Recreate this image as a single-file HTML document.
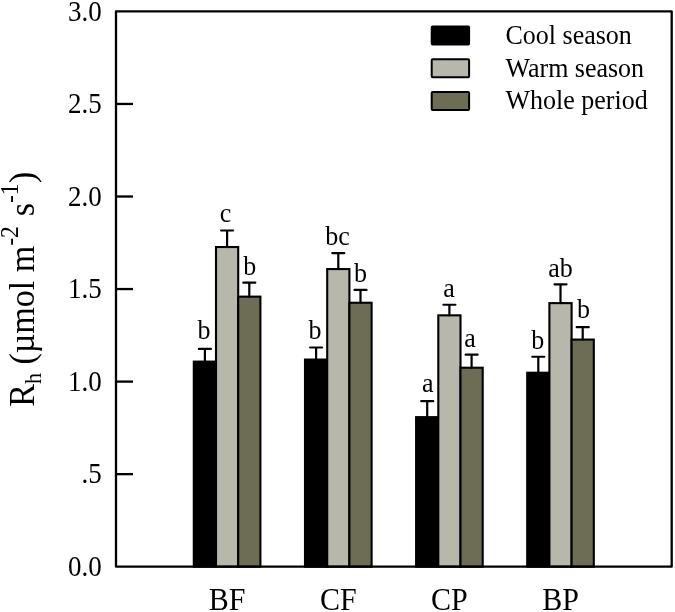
<!DOCTYPE html><html><head><meta charset="utf-8"><style>html,body{margin:0;padding:0;background:#fff;width:675px;height:612px;overflow:hidden}svg{display:block;will-change:transform}text{font-family:"Liberation Serif",serif;fill:#000}</style></head><body>
<svg width="675" height="612" viewBox="0 0 675 612">
<rect x="193.80" y="361.61" width="22.20" height="205.09" fill="#000000" stroke="#000" stroke-width="2.1"/>
<path d="M204.90 361.61V348.97M198.90 348.97H210.90" stroke="#000" stroke-width="2.2" fill="none" stroke-linecap="round"/>
<text transform="translate(204.05,338.50) scale(1,1.04)" font-size="26" text-anchor="middle">b</text>
<rect x="216.00" y="247.03" width="22.20" height="319.67" fill="#b7b7ac" stroke="#000" stroke-width="2.1"/>
<path d="M227.10 247.03V230.50M221.10 230.50H233.10" stroke="#000" stroke-width="2.2" fill="none" stroke-linecap="round"/>
<text transform="translate(225.60,221.70) scale(1,1.04)" font-size="26" text-anchor="middle">c</text>
<rect x="238.20" y="296.64" width="22.20" height="270.06" fill="#6d6d56" stroke="#000" stroke-width="2.1"/>
<path d="M249.30 296.64V282.70M243.30 282.70H255.30" stroke="#000" stroke-width="2.2" fill="none" stroke-linecap="round"/>
<text transform="translate(249.70,275.10) scale(1,1.04)" font-size="26" text-anchor="middle">b</text>
<rect x="305.00" y="359.57" width="22.20" height="207.13" fill="#000000" stroke="#000" stroke-width="2.1"/>
<path d="M316.10 359.57V347.49M310.10 347.49H322.10" stroke="#000" stroke-width="2.2" fill="none" stroke-linecap="round"/>
<text transform="translate(314.90,338.50) scale(1,1.04)" font-size="26" text-anchor="middle">b</text>
<rect x="327.20" y="269.06" width="22.20" height="297.64" fill="#b7b7ac" stroke="#000" stroke-width="2.1"/>
<path d="M338.30 269.06V253.09M332.30 253.09H344.30" stroke="#000" stroke-width="2.2" fill="none" stroke-linecap="round"/>
<text transform="translate(337.55,244.60) scale(1,1.04)" font-size="26" text-anchor="middle">bc</text>
<rect x="349.40" y="302.75" width="22.20" height="263.95" fill="#6d6d56" stroke="#000" stroke-width="2.1"/>
<path d="M360.50 302.75V289.92M354.50 289.92H366.50" stroke="#000" stroke-width="2.2" fill="none" stroke-linecap="round"/>
<text transform="translate(360.60,281.70) scale(1,1.04)" font-size="26" text-anchor="middle">b</text>
<rect x="416.10" y="417.14" width="22.20" height="149.56" fill="#000000" stroke="#000" stroke-width="2.1"/>
<path d="M427.20 417.14V401.17M421.20 401.17H433.20" stroke="#000" stroke-width="2.2" fill="none" stroke-linecap="round"/>
<text transform="translate(427.70,392.30) scale(1,1.04)" font-size="26" text-anchor="middle">a</text>
<rect x="438.30" y="315.33" width="22.20" height="251.37" fill="#b7b7ac" stroke="#000" stroke-width="2.1"/>
<path d="M449.40 315.33V304.73M443.40 304.73H455.40" stroke="#000" stroke-width="2.2" fill="none" stroke-linecap="round"/>
<text transform="translate(449.00,296.60) scale(1,1.04)" font-size="26" text-anchor="middle">a</text>
<rect x="460.50" y="367.72" width="22.20" height="198.98" fill="#6d6d56" stroke="#000" stroke-width="2.1"/>
<path d="M471.60 367.72V354.71M465.60 354.71H477.60" stroke="#000" stroke-width="2.2" fill="none" stroke-linecap="round"/>
<text transform="translate(470.10,347.00) scale(1,1.04)" font-size="26" text-anchor="middle">a</text>
<rect x="527.20" y="372.72" width="22.20" height="193.98" fill="#000000" stroke="#000" stroke-width="2.1"/>
<path d="M538.30 372.72V356.74M532.30 356.74H544.30" stroke="#000" stroke-width="2.2" fill="none" stroke-linecap="round"/>
<text transform="translate(537.70,348.80) scale(1,1.04)" font-size="26" text-anchor="middle">b</text>
<rect x="549.40" y="303.12" width="22.20" height="263.58" fill="#b7b7ac" stroke="#000" stroke-width="2.1"/>
<path d="M560.50 303.12V284.37M554.50 284.37H566.50" stroke="#000" stroke-width="2.2" fill="none" stroke-linecap="round"/>
<text transform="translate(560.60,277.00) scale(1,1.04)" font-size="26" text-anchor="middle">ab</text>
<rect x="571.60" y="339.58" width="22.20" height="227.12" fill="#6d6d56" stroke="#000" stroke-width="2.1"/>
<path d="M582.70 339.58V327.13M576.70 327.13H588.70" stroke="#000" stroke-width="2.2" fill="none" stroke-linecap="round"/>
<text transform="translate(583.50,317.50) scale(1,1.04)" font-size="26" text-anchor="middle">b</text>
<rect x="116" y="11.4" width="555.70" height="555.30" fill="none" stroke="#000" stroke-width="2.3" stroke-linejoin="round"/>
<text transform="translate(101.80,575.90) scale(1,1.065)" font-size="27" text-anchor="end">0.0</text>
<path d="M116 474.15H133" stroke="#000" stroke-width="2.3"/>
<text transform="translate(101.80,483.35) scale(1,1.065)" font-size="27" text-anchor="end">.5</text>
<path d="M116 381.60H133" stroke="#000" stroke-width="2.3"/>
<text transform="translate(101.80,390.80) scale(1,1.065)" font-size="27" text-anchor="end">1.0</text>
<path d="M116 289.05H133" stroke="#000" stroke-width="2.3"/>
<text transform="translate(101.80,298.25) scale(1,1.065)" font-size="27" text-anchor="end">1.5</text>
<path d="M116 196.50H133" stroke="#000" stroke-width="2.3"/>
<text transform="translate(101.80,205.70) scale(1,1.065)" font-size="27" text-anchor="end">2.0</text>
<path d="M116 103.95H133" stroke="#000" stroke-width="2.3"/>
<text transform="translate(101.80,113.15) scale(1,1.065)" font-size="27" text-anchor="end">2.5</text>
<text transform="translate(101.80,20.60) scale(1,1.065)" font-size="27" text-anchor="end">3.0</text>
<text transform="translate(227.10,609.60) scale(1,1.065)" font-size="30" text-anchor="middle">BF</text>
<text transform="translate(338.30,609.60) scale(1,1.065)" font-size="30" text-anchor="middle">CF</text>
<text transform="translate(449.40,609.60) scale(1,1.065)" font-size="30" text-anchor="middle">CP</text>
<text transform="translate(560.50,609.60) scale(1,1.065)" font-size="30" text-anchor="middle">BP</text>
<rect x="431.7" y="26.4" width="37.4" height="18" fill="#000000" stroke="#000" stroke-width="2" rx="1"/>
<text transform="translate(505.50,44.30) scale(1,1.05)" font-size="26">Cool season</text>
<rect x="431.7" y="59.2" width="37.4" height="18" fill="#b7b7ac" stroke="#000" stroke-width="2" rx="1"/>
<text transform="translate(505.50,76.60) scale(1,1.05)" font-size="26">Warm season</text>
<rect x="431.7" y="92.0" width="37.4" height="18" fill="#6d6d56" stroke="#000" stroke-width="2" rx="1"/>
<text transform="translate(505.50,108.60) scale(1,1.05)" font-size="26">Whole period</text>
<text transform="translate(33.6,406.8) rotate(-90) scale(1,1.05)" font-size="34">R<tspan font-size="22" dy="6.9">h</tspan><tspan dy="-6.9"> (µmol m</tspan><tspan font-size="23.5" dy="-14.6">-2</tspan><tspan dy="14.6" dx="1.5"> s</tspan><tspan font-size="23.5" dy="-14.6">-1</tspan><tspan dy="14.6" dx="0.5">)</tspan></text>
</svg></body></html>
